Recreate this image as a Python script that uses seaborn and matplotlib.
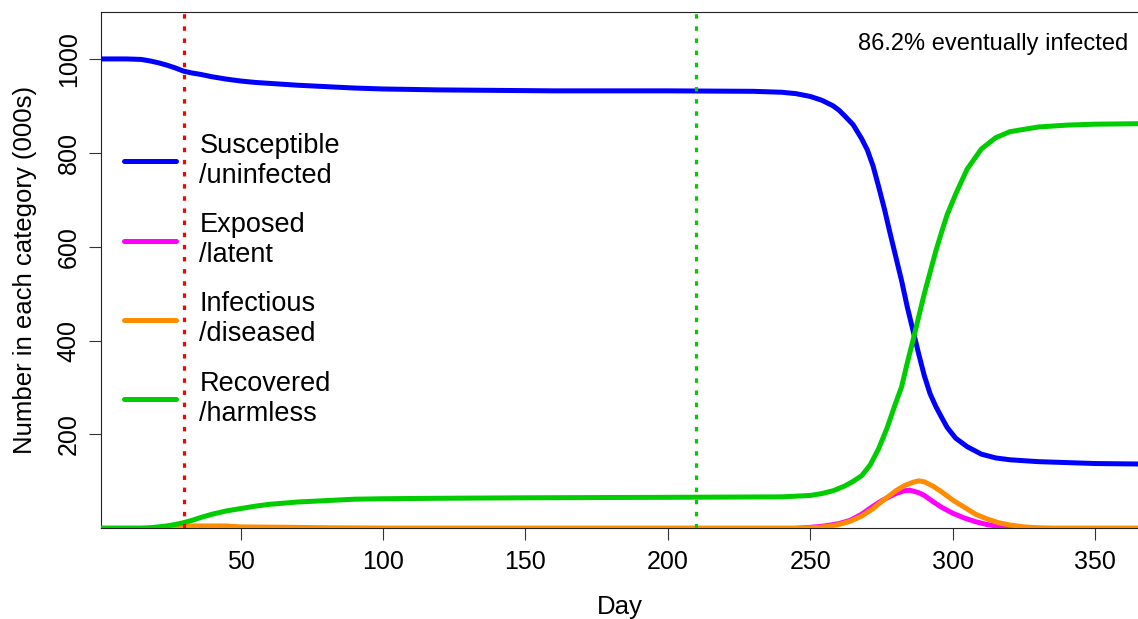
"""
SEIR epidemic curves - number of people in each category by day.
"""

import matplotlib
matplotlib.use("Agg")
import matplotlib.pyplot as plt
import seaborn as sns
import numpy as np

# ---- data (thousands of people) ----
s_days = [1, 10, 15, 18, 21, 24, 27, 30, 33, 36, 40, 45, 50, 55, 60, 70, 80, 90,
          100, 120, 140, 160, 200, 230, 240, 245, 250, 254, 258, 260, 262, 265,
          268, 270, 272, 274, 276, 278, 280, 282, 284, 286, 288, 290, 292, 294,
          296, 298, 301, 305, 310, 315, 320, 330, 340, 350, 365]
susceptible = [1000, 1000, 999, 996, 992, 987, 981, 974, 970, 967, 962, 957, 953,
               950, 948, 944, 941, 938, 936, 934, 933, 932, 932, 931, 929, 926,
               920, 912, 900, 891, 879, 860, 830, 806, 772, 727, 680, 628, 578,
               528, 472, 422, 372, 325, 287, 260, 237, 215, 192, 174, 158, 150,
               146, 142, 140, 138, 137]

e_days = [1, 20, 25, 28, 35, 48, 55, 245, 250, 255, 260, 264, 268, 272, 274, 276,
          280, 283, 285, 288, 290, 293, 296, 300, 304, 308, 312, 316, 320, 325, 365]
exposed = [0, 0, 0.5, 1, 1.5, 1, 0, 0, 2, 5, 10, 17, 30, 47, 55, 62, 74, 80, 81,
           76, 70, 57, 45, 32, 22, 14, 8, 4, 2, 0, 0]

i_days = [1, 22, 26, 30, 45, 50, 70, 80, 100, 245, 250, 255, 260, 264, 268, 272,
          274, 277, 280, 283, 286, 288, 290, 293, 296, 300, 304, 308, 312, 316,
          320, 325, 330, 335, 365]
infectious = [0, 0, 3, 5, 5, 3, 2, 1, 0, 0, 1, 3, 8, 15, 26, 42, 52, 66, 80, 91,
              98, 101, 99, 90, 78, 60, 45, 30, 20, 12, 7, 3, 1, 0, 0]

r_days = [1, 15, 18, 21, 24, 27, 30, 33, 36, 40, 45, 50, 55, 60, 70, 80, 90, 100,
          120, 150, 200, 240, 250, 254, 258, 262, 265, 268, 271, 274, 277, 280,
          282, 284, 286, 288, 290, 292, 294, 296, 298, 301, 305, 310, 315, 320,
          330, 340, 350, 365]
recovered = [0, 0, 1, 3, 5, 8, 12, 17, 23, 30, 37, 42, 47, 51, 56, 59, 62, 63, 64,
             65, 66, 67, 70, 74, 80, 90, 100, 112, 135, 170, 215, 268, 301, 352,
             400, 450, 500, 545, 590, 630, 668, 712, 765, 808, 832, 845, 855, 859,
             861, 862]

labels = ["Susceptible\n/uninfected", "Exposed\n/latent",
          "Infectious\n/diseased", "Recovered\n/harmless"]
colors = ["#0000FF", "#FF00FF", "#FF8C00", "#00CD00"]

intervention_days = [30, 210]
intervention_colors = ["#FF0000", "#00CD00"]

x_ticks = [50, 100, 150, 200, 250, 300, 350]
y_ticks = [200, 400, 600, 800, 1000]
note = "86.2% eventually infected"

# ---- style ----
sns.set_theme(style="ticks")
plt.rcParams['font.family'] = ['Liberation Sans', 'DejaVu Sans']
plt.rcParams['text.color'] = 'black'
plt.rcParams['axes.labelcolor'] = 'black'

fig = plt.figure(figsize=(11.38, 6.19), dpi=100)
ax = fig.add_axes([101 / 1138, 1 - 528.3 / 619, 1037 / 1138, 516.3 / 619])

series = [(s_days, susceptible), (e_days, exposed),
          (i_days, infectious), (r_days, recovered)]
for (days, vals), lab, col in zip(series, labels, colors):
    sns.lineplot(x=days, y=vals, ax=ax, color=col, linewidth=3.6,
                 label=lab, zorder=3, sort=False)

for d, c in zip(intervention_days, intervention_colors):
    ax.axvline(d, color=c, linewidth=2.3, linestyle=(0, (1.4, 2.4)), zorder=4)

ax.set_xlim(1, 365)
ax.set_ylim(0, 1100)
ax.set_xticks(x_ticks)
ax.set_yticks(y_ticks)
ax.tick_params(axis='both', direction='out', length=8.6, width=0.8,
               color='#333333', labelsize=18, labelcolor='black')
ax.tick_params(axis='x', pad=7)
ax.tick_params(axis='y', pad=6)
for lbl in ax.get_yticklabels():
    lbl.set_rotation(90)
    lbl.set_va('center')

for side in ['left', 'top', 'bottom']:
    ax.spines[side].set_color('#222222')
    ax.spines[side].set_linewidth(0.8)
ax.spines['right'].set_visible(False)

ax.set_xlabel("Day", fontsize=18.5, color='black')
ax.set_ylabel("Number in each category (000s)", fontsize=18.5, color='black')
ax.xaxis.label.set_va('center')
ax.yaxis.label.set_va('center')
ax.xaxis.set_label_coords(0.5, -(607 - 528.3) / 516.3)
ax.yaxis.set_label_coords((25 - 101) / 1037, 0.5)

leg = ax.legend(loc='upper left', bbox_to_anchor=(0.0222, 0.766), frameon=False,
                fontsize=19.5, handlelength=1.93, handletextpad=0.85,
                borderpad=0, borderaxespad=0, labelspacing=0.86)
for t in leg.get_texts():
    t.set_color('black')

ax.text(0.9904, 0.938, note, transform=ax.transAxes, ha='right', va='center',
        fontsize=17, color='black')

plt.savefig("out.png", dpi=100)
